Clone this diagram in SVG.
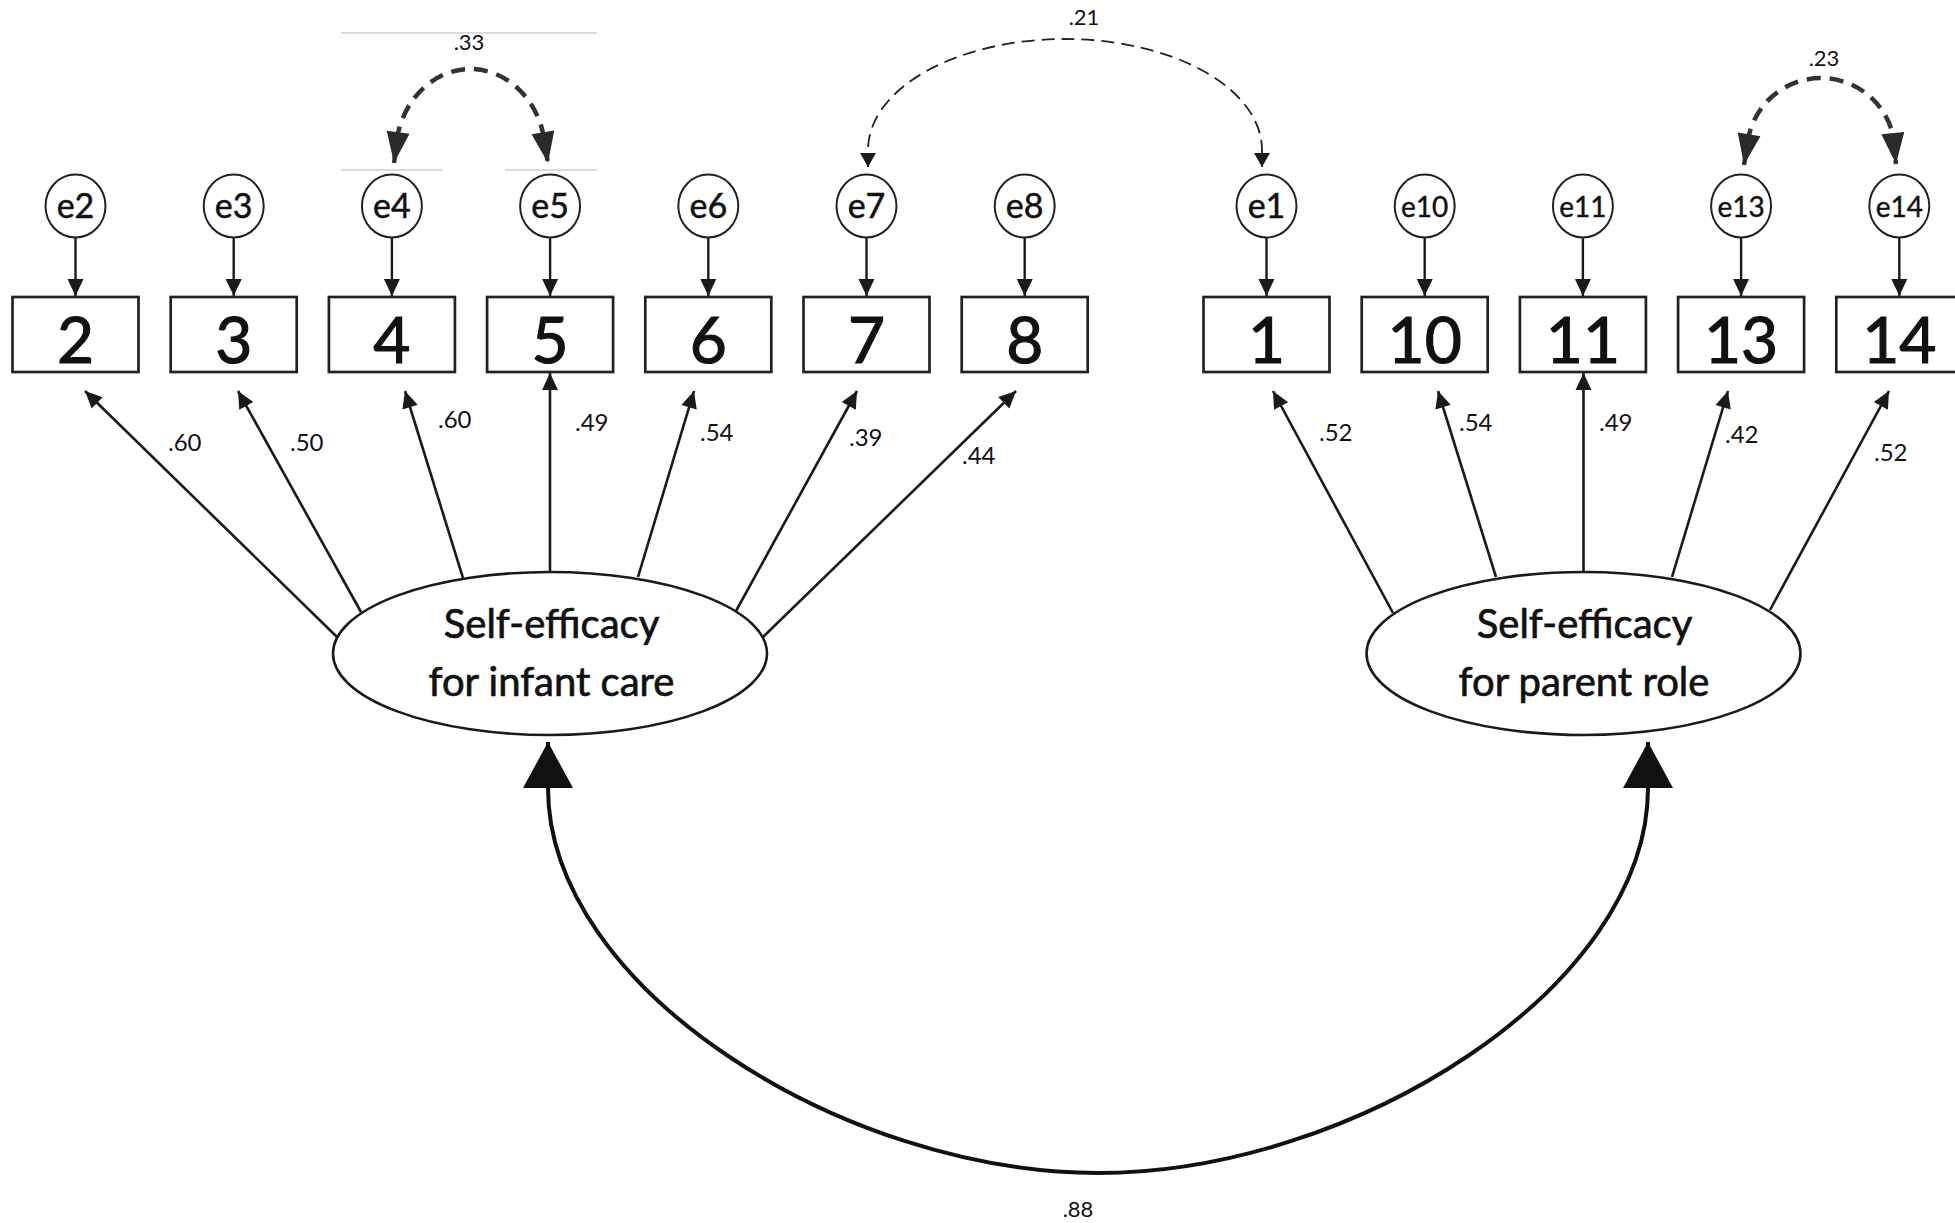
<svg xmlns="http://www.w3.org/2000/svg" width="1955" height="1223" viewBox="0 0 1955 1223">
<style>
text{font-family:Lato,"Open Sans","Liberation Sans",sans-serif;fill:#111}
.box{fill:#fff;stroke:#222;stroke-width:2.7}
.err{fill:#fff;stroke:#222;stroke-width:2}
.lat{fill:#fff;stroke:#1a1a1a;stroke-width:2.6}
.num{font-size:64px;text-anchor:middle;stroke:#111;stroke-width:1.2}
.el{font-size:34px;text-anchor:middle;stroke:#111;stroke-width:0.5}
.es{font-size:28px;text-anchor:middle;stroke:#111;stroke-width:0.4}
.lab{font-size:24px}
.small{font-size:22px;text-anchor:middle}
.latt{font-size:40px;text-anchor:middle;stroke:#111;stroke-width:0.7}
.path{fill:none;stroke:#1a1a1a;stroke-width:2.6}
.ea{fill:none;stroke:#1a1a1a;stroke-width:2.4}
.dash1{fill:none;stroke:#222;stroke-width:1.8;stroke-dasharray:13 7}
.dash2{fill:none;stroke:#333;stroke-width:4.5;stroke-dasharray:14 9}
.faint{stroke:#cfcfcf;stroke-width:1.5}
</style>
<defs>
<marker id="arr" markerUnits="userSpaceOnUse" markerWidth="18" markerHeight="16" refX="17" refY="8" orient="auto-start-reverse" overflow="visible"><path d="M0,0 L17,8 L0,16 z" fill="#1a1a1a"/></marker>
<marker id="arrS" markerUnits="userSpaceOnUse" markerWidth="15" markerHeight="16" refX="14" refY="8" orient="auto-start-reverse" overflow="visible"><path d="M0,0 L14,8 L0,16 z" fill="#1a1a1a"/></marker>
<marker id="arrD" markerUnits="userSpaceOnUse" markerWidth="31" markerHeight="23" refX="31" refY="11.5" orient="auto-start-reverse" overflow="visible"><path d="M0,0 L31,11.5 L0,23 z" fill="#2a2a2a"/></marker>
<marker id="arrB" markerUnits="userSpaceOnUse" markerWidth="46" markerHeight="50" refX="46" refY="25" orient="auto-start-reverse" overflow="visible"><path d="M0,0 L46,25 L0,50 z" fill="#111"/></marker>
</defs>
<rect width="1955" height="1223" fill="#fff"/>

<g id="artifacts">
<line class="faint" x1="341" y1="33" x2="597" y2="33"/>
<line class="faint" x1="341" y1="170" x2="442" y2="170"/>
<line class="faint" x1="505" y1="170" x2="597" y2="170"/>
</g>

<g id="connectors">
<line class="ea" x1="75.5" y1="237.5" x2="75.5" y2="296" marker-end="url(#arr)"/>
<line class="ea" x1="233.7" y1="237.5" x2="233.7" y2="296" marker-end="url(#arr)"/>
<line class="ea" x1="391.9" y1="237.5" x2="391.9" y2="296" marker-end="url(#arr)"/>
<line class="ea" x1="550.1" y1="237.5" x2="550.1" y2="296" marker-end="url(#arr)"/>
<line class="ea" x1="708.3" y1="237.5" x2="708.3" y2="296" marker-end="url(#arr)"/>
<line class="ea" x1="866.5" y1="237.5" x2="866.5" y2="296" marker-end="url(#arr)"/>
<line class="ea" x1="1024.7" y1="237.5" x2="1024.7" y2="296" marker-end="url(#arr)"/>
<line class="ea" x1="1266.5" y1="237.5" x2="1266.5" y2="296" marker-end="url(#arr)"/>
<line class="ea" x1="1424.7" y1="237.5" x2="1424.7" y2="296" marker-end="url(#arr)"/>
<line class="ea" x1="1582.9" y1="237.5" x2="1582.9" y2="296" marker-end="url(#arr)"/>
<line class="ea" x1="1741.1" y1="237.5" x2="1741.1" y2="296" marker-end="url(#arr)"/>
<line class="ea" x1="1899.3" y1="237.5" x2="1899.3" y2="296" marker-end="url(#arr)"/>

<line class="path" x1="337" y1="637" x2="85" y2="391" marker-end="url(#arr)"/>
<line class="path" x1="361" y1="612" x2="238" y2="391" marker-end="url(#arr)"/>
<line class="path" x1="463" y1="578" x2="405" y2="391" marker-end="url(#arr)"/>
<line class="path" x1="550" y1="572" x2="550" y2="373" marker-end="url(#arr)"/>
<line class="path" x1="638" y1="577" x2="694" y2="391" marker-end="url(#arr)"/>
<line class="path" x1="736" y1="611" x2="857" y2="391" marker-end="url(#arr)"/>
<line class="path" x1="763" y1="637" x2="1016" y2="391" marker-end="url(#arr)"/>
<line class="path" x1="1393" y1="613" x2="1273" y2="391" marker-end="url(#arr)"/>
<line class="path" x1="1496" y1="577" x2="1438" y2="391" marker-end="url(#arr)"/>
<line class="path" x1="1583.5" y1="572" x2="1583.5" y2="373" marker-end="url(#arr)"/>
<line class="path" x1="1672" y1="577" x2="1728" y2="391" marker-end="url(#arr)"/>
<line class="path" x1="1770" y1="610" x2="1889" y2="391" marker-end="url(#arr)"/>

<path class="dash2" d="M394 163 L398 133 A75 86 0 0 1 543 133 L548 163" marker-start="url(#arrD)" marker-end="url(#arrD)"/>
<path class="dash1" d="M868 167 L868 150 A197 111 0 0 1 1262 150 L1262 167" marker-start="url(#arrS)" marker-end="url(#arrS)"/>
<path class="dash2" d="M1744 165 L1749 135 A74 74 0 0 1 1893 135 L1896 164" marker-start="url(#arrD)" marker-end="url(#arrD)"/>

<path fill="none" stroke="#111" stroke-width="4" d="M548 742 L548 788 C548 988 843 1173 1098 1173 C1353 1173 1648 988 1648 788 L1648 742" marker-start="url(#arrB)" marker-end="url(#arrB)"/>

<text class="lab" x="168" y="451">.60</text>
<text class="lab" x="290" y="451">.50</text>
<text class="lab" x="438" y="428">.60</text>
<text class="lab" x="575" y="431">.49</text>
<text class="lab" x="700" y="441">.54</text>
<text class="lab" x="849" y="446">.39</text>
<text class="lab" x="962" y="464">.44</text>
<text class="lab" x="1319" y="441">.52</text>
<text class="lab" x="1459" y="431">.54</text>
<text class="lab" x="1599" y="431">.49</text>
<text class="lab" x="1725" y="443">.42</text>
<text class="lab" x="1874" y="461">.52</text>
<text class="small" x="469" y="50">.33</text>
<text class="small" x="1084" y="25">.21</text>
<text class="small" x="1824" y="66">.23</text>
<text class="small" x="1078" y="1217">.88</text>
</g>

<g id="e2"><ellipse class="err" cx="75.5" cy="206" rx="30" ry="31.5"/><text class="el" x="75.5" y="218">e2</text></g>
<g id="e3"><ellipse class="err" cx="233.7" cy="206" rx="30" ry="31.5"/><text class="el" x="233.7" y="218">e3</text></g>
<g id="e4"><ellipse class="err" cx="391.9" cy="206" rx="30" ry="31.5"/><text class="el" x="391.9" y="218">e4</text></g>
<g id="e5"><ellipse class="err" cx="550.1" cy="206" rx="30" ry="31.5"/><text class="el" x="550.1" y="218">e5</text></g>
<g id="e6"><ellipse class="err" cx="708.3" cy="206" rx="30" ry="31.5"/><text class="el" x="708.3" y="218">e6</text></g>
<g id="e7"><ellipse class="err" cx="866.5" cy="206" rx="30" ry="31.5"/><text class="el" x="866.5" y="218">e7</text></g>
<g id="e8"><ellipse class="err" cx="1024.7" cy="206" rx="30" ry="31.5"/><text class="el" x="1024.7" y="218">e8</text></g>
<g id="e1"><ellipse class="err" cx="1266.5" cy="206" rx="30" ry="31.5"/><text class="el" x="1266.5" y="218">e1</text></g>
<g id="e10"><ellipse class="err" cx="1424.7" cy="206" rx="30" ry="31.5"/><text class="es" x="1424.7" y="217">e10</text></g>
<g id="e11"><ellipse class="err" cx="1582.9" cy="206" rx="30" ry="31.5"/><text class="es" x="1582.9" y="217">e11</text></g>
<g id="e13"><ellipse class="err" cx="1741.1" cy="206" rx="30" ry="31.5"/><text class="es" x="1741.1" y="217">e13</text></g>
<g id="e14"><ellipse class="err" cx="1899.3" cy="206" rx="30" ry="31.5"/><text class="es" x="1899.3" y="217">e14</text></g>

<g id="item2"><rect class="box" x="12.5" y="297" width="126" height="75"/><text class="num" x="75.5" y="363">2</text></g>
<g id="item3"><rect class="box" x="170.7" y="297" width="126" height="75"/><text class="num" x="233.7" y="363">3</text></g>
<g id="item4"><rect class="box" x="328.9" y="297" width="126" height="75"/><text class="num" x="391.9" y="363">4</text></g>
<g id="item5"><rect class="box" x="487.1" y="297" width="126" height="75"/><text class="num" x="550.1" y="363">5</text></g>
<g id="item6"><rect class="box" x="645.3" y="297" width="126" height="75"/><text class="num" x="708.3" y="363">6</text></g>
<g id="item7"><rect class="box" x="803.5" y="297" width="126" height="75"/><text class="num" x="866.5" y="363">7</text></g>
<g id="item8"><rect class="box" x="961.7" y="297" width="126" height="75"/><text class="num" x="1024.7" y="363">8</text></g>
<g id="item1"><rect class="box" x="1203.5" y="297" width="126" height="75"/><text class="num" x="1266.5" y="363">1</text></g>
<g id="item10"><rect class="box" x="1361.7" y="297" width="126" height="75"/><text class="num" x="1424.7" y="363">10</text></g>
<g id="item11"><rect class="box" x="1519.9" y="297" width="126" height="75"/><text class="num" x="1582.9" y="363">11</text></g>
<g id="item13"><rect class="box" x="1678.1" y="297" width="126" height="75"/><text class="num" x="1741.1" y="363">13</text></g>
<g id="item14"><rect class="box" x="1836.3" y="297" width="126" height="75"/><text class="num" x="1899.3" y="363">14</text></g>

<g id="infant-care"><ellipse class="lat" cx="550" cy="653.5" rx="217" ry="81.5"/><text class="latt" x="551.5" y="638">Self-efficacy</text><text class="latt" x="551.5" y="696">for infant care</text></g>
<g id="parent-role"><ellipse class="lat" cx="1583.5" cy="653.5" rx="217" ry="81.5"/><text class="latt" x="1584.5" y="638">Self-efficacy</text><text class="latt" x="1584" y="696">for parent role</text></g>
</svg>
